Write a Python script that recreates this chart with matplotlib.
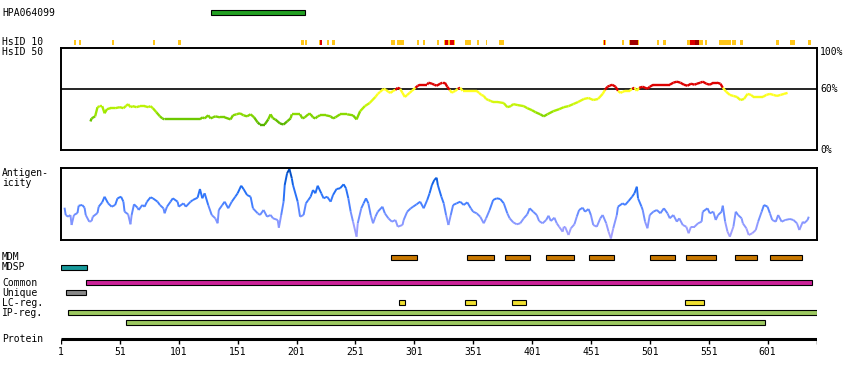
import numpy as np
import matplotlib
matplotlib.use("Agg")
import matplotlib.pyplot as plt
from matplotlib.collections import LineCollection
from matplotlib.colors import LinearSegmentedColormap

plt.rcParams["font.family"] = ["DejaVu Sans Mono"]
plt.rcParams["font.size"] = 7

# ---------------- data ----------------
protein_len = 643
axis_ticks = [1, 51, 101, 151, 201, 251, 301, 351, 401, 451, 501, 551, 601]

hpa_start, hpa_end = [128], [208]

# HsID 10 marks: start, end, level (g = gold, r = red, d = dark red)
h10_start = [12, 16, 44, 79, 100, 205, 208, 220, 221, 227, 231, 281, 286, 303, 308, 320,
             326, 327, 330, 331, 335, 344, 354, 362, 373, 461, 462, 463, 477, 483, 484, 491,
             507, 512, 533, 535, 539, 543, 548, 560, 571, 578, 608, 620, 635]
h10_end = [14, 18, 46, 81, 103, 207, 210, 221, 223, 229, 234, 285, 292, 305, 310, 322,
           327, 330, 331, 335, 336, 349, 356, 363, 377, 462, 463, 464, 479, 484, 491, 492,
           509, 515, 535, 539, 543, 546, 550, 570, 574, 580, 611, 624, 638]
h10_level = ["g", "g", "g", "g", "g", "g", "g", "g", "r", "g", "g", "g", "g", "g", "g", "g",
             "g", "r", "g", "r", "g", "g", "g", "g", "g", "g", "r", "g", "g", "g", "d", "g",
             "g", "g", "g", "r", "d", "g", "g", "g", "g", "g", "g", "g", "g"]

# HsID 50 identity (%) along the sequence
hsid_res = [26, 27, 30, 32, 34, 36, 38, 40, 43, 47, 51, 54, 56, 58, 60, 62, 65, 68, 72, 75,
            77, 79, 82, 85, 87, 89, 119, 121, 123, 126, 128, 130, 132, 136, 140, 145, 147,
            150, 153, 156, 159, 162, 165, 168, 170, 174, 177, 179, 181, 183, 187, 190, 193,
            196, 197, 201, 204, 206, 208, 211, 213, 215, 217, 219, 221, 226, 230, 232, 234,
            238, 244, 249, 252, 255, 259, 263, 268, 270, 272, 275, 277, 279, 281, 283, 285,
            287, 289, 291, 293, 295, 297, 299, 302, 304, 306, 309, 312, 313, 316, 318, 320,
            323, 325, 327, 329, 331, 333, 334, 336, 338, 340, 342, 348, 352, 354, 356, 358,
            360, 362, 364, 366, 368, 372, 377, 380, 383, 385, 389, 394, 397, 401, 404, 408,
            411, 414, 419, 424, 428, 432, 436, 440, 445, 449, 453, 457, 461, 463, 465, 467,
            469, 472, 474, 476, 478, 480, 484, 486, 488, 490, 492, 495, 499, 501, 504, 508,
            512, 516, 518, 521, 524, 527, 530, 533, 536, 539, 541, 544, 546, 549, 552, 555,
            558, 561, 563, 566, 569, 572, 575, 578, 581, 584, 587, 589, 593, 597, 600, 603,
            606, 609, 612, 615, 618]
hsid_pct = [28, 31, 33, 42, 43, 43, 36, 40, 41, 41, 42, 41, 43, 45, 42, 43, 42, 43, 43, 42,
            43, 41, 37, 33, 31, 30, 30, 32, 31, 34, 31, 32, 33, 32, 32, 30, 34,
            35, 36, 34, 33, 35, 32, 27, 25, 25, 30, 35, 31, 30, 26, 25, 28,
            31, 35, 35, 35, 31, 32, 35, 35, 32, 31, 33, 34, 34, 33, 31, 32,
            35, 35, 34, 30, 38, 43, 46, 52, 55, 57, 60, 59, 57, 56, 58, 59,
            61, 60, 56, 52, 54, 56, 58, 61, 63, 64, 64, 64, 66, 65, 64, 63,
            65, 66, 66, 62, 59, 56, 57, 58, 60, 61, 58, 58, 58, 58, 56, 54,
            53, 50, 49, 48, 47, 47, 46, 42, 43, 45, 44, 43, 41, 39, 37, 35,
            33, 35, 38, 40, 42, 43, 45, 47, 50, 51, 49, 50, 55, 59, 62, 63,
            64, 62, 58, 56, 57, 58, 58, 60, 61, 58, 61, 62, 60, 62, 64, 64,
            64, 64, 64, 66, 67, 66, 64, 63, 65, 64, 65, 66, 67, 65, 64, 66,
            66, 65, 61, 57, 54, 53, 52, 49, 50, 55, 54, 52, 52, 52, 54, 55,
            54, 53, 54, 55, 56]

# antigenicity profile (arbitrary units)
ag_res = [4, 5, 7, 9, 10, 12, 15, 16, 19, 21, 22, 25, 27, 28, 32, 33, 36, 38, 41, 44, 47,
          49, 52, 54, 55, 58, 60, 61, 63, 66, 67, 70, 72, 74, 77, 79, 83, 85, 88, 89, 91,
          94, 96, 100, 101, 105, 107, 111, 113, 117, 119, 121, 123, 126, 129, 132, 134,
          135, 138, 140, 143, 146, 149, 151, 154, 156, 159, 162, 164, 168, 170, 173, 176,
          179, 181, 185, 186, 188, 190, 191, 193, 195, 197, 198, 202, 204, 207, 209, 211,
          213, 215, 217, 219, 222, 224, 227, 230, 232, 235, 238, 241, 243, 245, 247, 249,
          252, 253, 256, 258, 260, 262, 264, 266, 268, 270, 274, 276, 279, 282, 285, 287,
          291, 292, 295, 298, 300, 303, 306, 309, 312, 314, 316, 318, 320, 321, 324, 326,
          328, 330, 332, 334, 337, 340, 343, 346, 349, 351, 354, 357, 360, 362, 365, 368,
          371, 374, 377, 380, 382, 385, 388, 391, 394, 397, 399, 402, 405, 407, 410, 413,
          415, 417, 420, 422, 424, 427, 428, 429, 432, 434, 437, 439, 441, 444, 446, 449, 451,
          453, 456, 459, 461, 464, 466, 468, 470, 473, 474, 478, 480, 483, 486, 488, 490,
          491, 494, 495, 497, 499, 501, 504, 507, 510, 513, 516, 518, 521, 524, 526, 529,
          532, 534, 536, 539, 542, 545, 546, 550, 552, 555, 557, 559, 562, 563, 565, 567,
          569, 572, 574, 576, 579, 580, 583, 585, 588, 591, 593, 596, 598, 601, 603, 605,
          608, 610, 613, 616, 620, 623, 626, 628, 631, 632, 635, 636]
ag_val = [32.3, 25, 23.3, 25, 15, 25, 27, 34.3, 35, 32.3, 25, 18.3, 19, 23.3, 27, 33.3,
          37.7, 43.3, 36.7, 33.3, 35, 41.7, 43.3, 38.3, 28.3, 25.7, 15.7, 25, 35.7, 32.3,
          30, 35, 33.3, 38.3, 42.7, 41.7, 38.3, 35, 31.7, 26.7, 33.3, 38.3, 41.7, 38.3,
          33.3, 36.7, 33.3, 38.3, 40, 42.3, 51, 41.7, 46.7, 35, 25, 21.7, 16.7, 30, 35,
          38.3, 31.7, 38.3, 43.3, 46.7, 54.3, 51, 45, 43.3, 31.7, 26.7, 25, 30, 23.3, 25,
          21.7, 20, 12.3, 25, 38.3, 55, 66.7, 71, 61.7, 55, 38.3, 23.3, 25, 36.7, 40, 43.3,
          50, 46.7, 54.3, 46.7, 41.7, 43.3, 38.3, 45, 51, 51.7, 55.7, 51.7, 41.7, 28.3,
          18.3, 3.3, 16.7, 31.7, 36.7, 41.7, 36.7, 25, 16.7, 23.3, 28.3, 33.3, 26.7, 21.7,
          18.3, 20, 13.3, 15, 20, 28.3, 31.7, 33.3, 35.7, 38.3, 31.7, 40, 46.7, 55, 60,
          62.3, 55, 43.3, 36.7, 25, 15, 25, 35, 36.7, 38.3, 35, 37.7, 31.7, 28.3, 26.7,
          23.3, 16.7, 21.7, 30, 40, 41.7, 41, 36.7, 26.7, 21.7, 17.7, 15.7, 16.7, 21.7,
          25.7, 31.7, 28.3, 25, 19, 16.7, 20, 24.3, 19, 22.3, 16.7, 13.3, 8.3, 13.3, 13.3,
          5, 11.7, 15.7, 23.3, 30, 32.3, 28.3, 31, 25, 15, 13.3, 21.7, 25, 16.7, 8.3, 1.5,
          11.7, 25, 33.3, 36.7, 35, 39, 43.3, 46.7, 53.3, 41.7, 33.3, 30, 18.3, 11.7, 25,
          28.3, 30, 26.7, 31.7, 26.7, 21.7, 25, 18.3, 21.7, 15, 13.3, 6.7, 13.3, 13.3,
          16.7, 18.3, 28.3, 31.7, 26.7, 28.3, 20, 25, 28.3, 34.3, 18.3, 8.3, 3.3, 13.3,
          28.3, 25, 21.7, 16.7, 11.7, 5, 6.7, 10, 18.3, 28.3, 35, 33.3, 26.7, 20, 18.3, 25,
          18.3, 20, 21, 20, 16.7, 10, 18.3, 16.7, 20, 23.3]

mdm_start = [281, 346, 378, 413, 449, 501, 532, 573, 603]
mdm_end = [303, 369, 399, 437, 471, 522, 557, 592, 630]
mdsp_start, mdsp_end = [1], [23]
common_start, common_end = [22], [639]
unique_start, unique_end = [5], [22]
lc_start = [288, 344, 384, 531]
lc_end = [293, 353, 396, 547]
ip1_start, ip1_end = [7], [643]
ip2_start, ip2_end = [56], [599]

# ---------------- layout (pixels) ----------------
W, H = 850, 380
fig = plt.figure(figsize=(W / 100, H / 100), dpi=100)


def box(x0, y0, w, h):
    return [x0 / W, 1 - (y0 + h) / H, w / W, h / H]


def label(y, s):
    fig.text(2 / W, 1 - y / H, s, ha="left", va="center")


ov = fig.add_axes(box(61, 0, 756, 380))
ov.set_xlim(1, protein_len)
ov.set_ylim(H, 0)
ov.axis("off")


def bars(starts, ends, y, color, h=5.0, edge=True):
    ov.bar(starts, h, width=np.subtract(ends, starts), bottom=y, align="edge",
           color=color, edgecolor="black" if edge else "none",
           linewidth=0.8 if edge else 0)


bars(hpa_start, hpa_end, 10, "#22a022")
lvl_col = {"g": "#ffc61a", "r": "#dd0000", "d": "#a00000"}
ov.bar(h10_start, 4.5, width=np.subtract(h10_end, h10_start), bottom=40, align="edge",
       color=[lvl_col[l] for l in h10_level], linewidth=0)

bars(mdm_start, mdm_end, 255, "#c87800")
bars(mdsp_start, mdsp_end, 265, "#17999a")
bars(common_start, common_end, 280, "#cc2299")
bars(unique_start, unique_end, 290, "#888888")
bars(lc_start, lc_end, 300, "#f0e030")
bars(ip1_start, ip1_end, 310, "#9cc860")
bars(ip2_start, ip2_end, 320, "#9cc860")

ov.plot([1, protein_len], [339, 339], color="black", lw=2.2, solid_capstyle="butt")
ov.vlines(axis_ticks + [protein_len], 339, 343.5, color="black", lw=1)
for t in axis_ticks:
    ov.text(t, 352, str(t), ha="center", va="center")

# HsID 50 panel
ah = fig.add_axes(box(61, 48, 756, 102))
ah.set_xlim(1, protein_len)
ah.set_ylim(0, 100)
ah.set_xticks([])
ah.set_yticks([])
for s in ah.spines.values():
    s.set_linewidth(1.4)
ah.axhline(60, color="black", lw=1.2)
gcmap = LinearSegmentedColormap.from_list(
    "hsid", [(0, "#55b000"), (0.15, "#6cc800"), (0.45, "#aaee00"),
             (0.7, "#dcfa10"), (0.88, "#ffff20"), (1, "#ffff20")])
pts = np.column_stack([hsid_res, hsid_pct])
segs = np.stack([pts[:-1], pts[1:]], axis=1)
mid = (np.array(hsid_pct[:-1]) + np.array(hsid_pct[1:])) / 2
cols = [("#dd0000" if m >= 60 else gcmap(np.clip((m - 25) / 33, 0, 1))) for m in mid]
ah.add_collection(LineCollection(segs, colors=cols, linewidths=1.7))
yt = ah.get_yaxis_transform()
ah.text(1.004, 96, "100%", transform=yt, va="center", ha="left")
ah.text(1.004, 60, "60%", transform=yt, va="center", ha="left")
ah.text(1.004, 0, "0%", transform=yt, va="center", ha="left")

# antigenicity panel
aa = fig.add_axes(box(61, 168, 756, 72))
aa.set_xlim(1, protein_len)
aa.set_ylim(0, 72)
aa.set_xticks([])
aa.set_yticks([])
for s in aa.spines.values():
    s.set_linewidth(1.4)
bcmap = LinearSegmentedColormap.from_list(
    "ag", [(0, "#b4a6ff"), (0.3, "#7f94ff"), (0.55, "#3f7dff"),
           (0.8, "#1266ee"), (1, "#0048b8")])
pts = np.column_stack([ag_res, ag_val])
segs = np.stack([pts[:-1], pts[1:]], axis=1)
mid = (np.array(ag_val[:-1]) + np.array(ag_val[1:])) / 2
aa.add_collection(LineCollection(segs, colors=[bcmap(np.clip(m / 70, 0, 1)) for m in mid],
                                 linewidths=1.4))

# row labels
label(12.7, "HPA064099")
label(42.3, "HsID 10")
label(52.3, "HsID 50")
label(173.3, "Antigen-")
label(183.3, "icity")
label(257.3, "MDM")
label(267.3, "MDSP")
label(282.7, "Common")
label(292.7, "Unique")
label(302.7, "LC-reg.")
label(312.7, "IP-reg.")
label(339.3, "Protein")

fig.savefig("out.png", dpi=100)
